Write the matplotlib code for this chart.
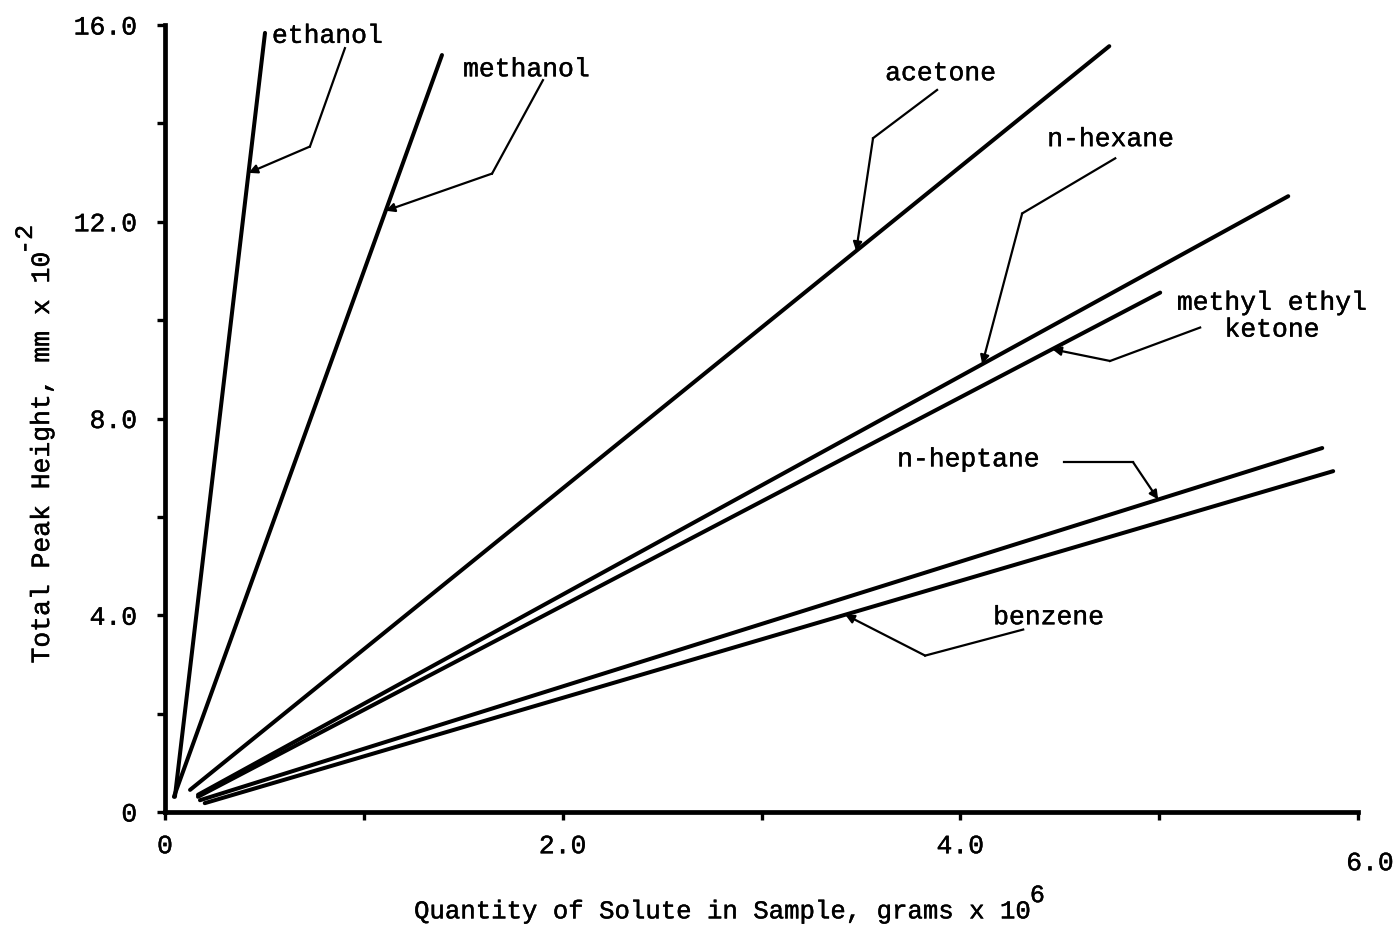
import numpy as np
import matplotlib.pyplot as plt
import matplotlib.patheffects as pe
from matplotlib.text import Text
from matplotlib.transforms import ScaledTranslation

plt.rcParams['font.family'] = ['Liberation Mono', 'DejaVu Sans Mono']

# calibration lines: quantity (grams x 10^6) vs total peak height (mm x 10^-2)
solutes = ['ethanol', 'methanol', 'acetone', 'n-hexane',
           'methyl ethyl\nketone', 'n-heptane', 'benzene']
x_start = [0.05, 0.045, 0.126, 0.166, 0.166, 0.176, 0.20]
y_start = [0.31, 0.31, 0.45, 0.35, 0.31, 0.24, 0.18]
x_end = [0.503, 1.393, 4.749, 5.649, 5.005, 5.82, 5.875]
y_end = [15.84, 15.39, 15.57, 12.52, 10.56, 7.40, 6.93]

# where each name sits, and the bent leader that points at its line
label_x = [0.538, 1.499, 3.622, 4.437, 5.568, 3.682, 4.165]
label_y = [15.78, 15.10, 15.02, 13.68, 10.08, 7.17, 3.96]
label_ha = ['left', 'left', 'left', 'left', 'center', 'left', 'left']
leader_x = [[0.905, 0.729], [1.901, 1.645], [3.883, 3.561], [4.779, 4.311],
            [5.206, 4.753], [4.52, 4.869], [4.316, 3.823]]
leader_y = [[15.53, 13.53], [14.88, 12.98], [14.68, 13.70], [13.29, 12.17],
            [9.85, 9.17], [7.11, 7.11], [3.71, 3.18]]
tip_x = [0.42, 1.11, 3.476, 4.110, 4.462, 4.995, 3.421]

x_ticks = [0, 1, 2, 3, 4, 5, 6]
x_ticklabels = ['0', '', '2.0', '', '4.0', '', '6.0']
y_ticks = [0, 2, 4, 6, 8, 10, 12, 14, 16]
y_ticklabels = ['0', '', '4.0', '', '8.0', '', '12.0', '', '16.0']

fig = plt.figure(figsize=(13.97, 9.34), dpi=100)
ax = fig.add_axes([0.1181, 0.1306, 0.854, 0.8426])

for i, name in enumerate(solutes):
    xs = [x_start[i], x_end[i]]
    ys = [y_start[i], y_end[i]]
    ax.plot(xs, ys, color='black', lw=2.9, solid_capstyle='round')

    # leader: two straight pieces, the last one ends in an arrow on the line
    tx = tip_x[i]
    ty = np.interp(tx, xs, ys)
    ax.plot(leader_x[i], leader_y[i], color='black', lw=1.6)
    ax.annotate('', xy=(tx, ty), xytext=(leader_x[i][1], leader_y[i][1]),
                arrowprops=dict(arrowstyle='-|>', color='black', lw=1.6,
                                mutation_scale=13, shrinkA=0, shrinkB=0))
    ax.text(label_x[i], label_y[i], name, fontsize=19, ha=label_ha[i],
            va='center', multialignment='center', linespacing=1.15)

ax.set_xlim(0, 6)
ax.set_ylim(0, 16)
for side in ['top', 'right']:
    ax.spines[side].set_visible(False)
for side in ['left', 'bottom']:
    ax.spines[side].set_linewidth(3.4)

ax.set_xticks(x_ticks)
ax.set_xticklabels(x_ticklabels)
ax.set_yticks(y_ticks)
ax.set_yticklabels(y_ticklabels)
ax.tick_params(direction='out', length=6, width=2.4, labelsize=19)
ax.tick_params(axis='x', pad=10)
ax.tick_params(axis='y', pad=14)

# last x label sits lower and to the right of its tick
shift = ScaledTranslation(0.12, -0.17, fig.dpi_scale_trans)
last = ax.get_xticklabels()[-1]
last.set_transform(last.get_transform() + shift)

# axis titles, with full-size raised exponents hung off their ends
xlab = ax.set_xlabel('Quantity of Solute in Sample, grams x 10', fontsize=18.5)
ax.xaxis.set_label_coords(0.4686, -0.111)
ax.annotate('6', xy=(1.0, 1.0), xycoords=xlab, xytext=(-3, -2),
            textcoords='offset points', ha='left', va='baseline', fontsize=18)

ylab = ax.set_ylabel('Total Peak Height, mm x 10', fontsize=19)
ax.yaxis.set_label_coords(-0.093, 0.451)
ax.annotate('-2', xy=(0.0, 1.0), xycoords=ylab, xytext=(5, -3),
            textcoords='offset points', ha='right', va='bottom',
            rotation=90, fontsize=18)

# typewritten look: slightly heavier strokes on all lettering
for t in fig.findobj(Text):
    t.set_path_effects([pe.withStroke(linewidth=0.3, foreground='black')])

fig.savefig('out.png', dpi=100)
